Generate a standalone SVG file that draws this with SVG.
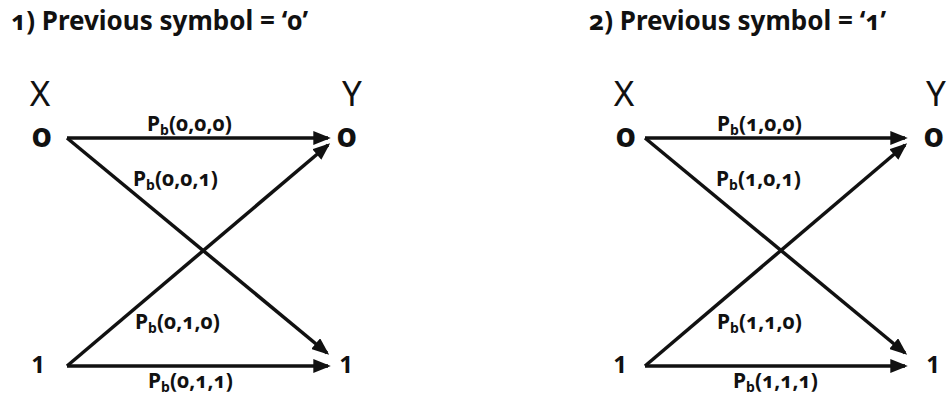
<svg xmlns="http://www.w3.org/2000/svg" width="948" height="396" viewBox="0 0 948 396">
<style>
text{font-family:"Noto Sans","Open Sans",sans-serif;fill:#111;font-variant-numeric:oldstyle-nums}
.title{font-size:26px;font-weight:bold}
.xy{font-size:35px;font-weight:normal}
.sym{font-size:34px;font-weight:bold}
.one{font-size:24px;font-weight:bold;font-variant-numeric:lining-nums}
.lab{font-size:21px;font-weight:bold}
.sub{font-size:14px}
.edge{stroke:#111;stroke-width:3.5;fill:none;marker-end:url(#ah)}
</style>
<defs>
<marker id="ah" markerWidth="5" markerHeight="4" refX="4.2" refY="2" orient="auto" markerUnits="strokeWidth">
<path d="M0,0 L5,2 L0,4 Z" fill="#111"/>
</marker>
</defs>
<rect width="948" height="396" fill="#fff"/>
<g id="panel1">
<text class="title" x="11" y="30">1) Previous symbol = ‘0’</text>
<g id="p1-x"><text class="xy" x="40" y="106" text-anchor="middle">X</text></g>
<g id="p1-y"><text class="xy" x="352" y="106" text-anchor="middle">Y</text></g>
<g id="p1-x0"><text class="sym" x="42" y="147" text-anchor="middle">0</text></g>
<g id="p1-x1"><text class="one" x="38" y="373" text-anchor="middle">1</text></g>
<g id="p1-y0"><text class="sym" x="347" y="147" text-anchor="middle">0</text></g>
<g id="p1-y1"><text class="one" x="346" y="373" text-anchor="middle">1</text></g>
<g id="p1-connectors">
<line class="edge" x1="67" y1="138" x2="328" y2="138"/>
<line class="edge" x1="67" y1="138" x2="327" y2="353"/>
<line class="edge" x1="67" y1="366" x2="328" y2="145"/>
<line class="edge" x1="67" y1="366" x2="328" y2="366"/>
<text class="lab" x="147" y="131">P<tspan class="sub" dy="4">b</tspan><tspan dy="-4">(0,0,0)</tspan></text>
<text class="lab" x="133" y="186">P<tspan class="sub" dy="4">b</tspan><tspan dy="-4">(0,0,1)</tspan></text>
<text class="lab" x="135" y="329">P<tspan class="sub" dy="4">b</tspan><tspan dy="-4">(0,1,0)</tspan></text>
<text class="lab" x="148" y="388">P<tspan class="sub" dy="4">b</tspan><tspan dy="-4">(0,1,1)</tspan></text>
</g>
</g>
<g id="panel2">
<text class="title" x="589" y="30">2) Previous symbol = ‘1’</text>
<g id="p2-x"><text class="xy" x="624" y="106" text-anchor="middle">X</text></g>
<g id="p2-y"><text class="xy" x="936" y="106" text-anchor="middle">Y</text></g>
<g id="p2-x0"><text class="sym" x="626" y="147" text-anchor="middle">0</text></g>
<g id="p2-x1"><text class="one" x="620" y="373" text-anchor="middle">1</text></g>
<g id="p2-y0"><text class="sym" x="934" y="147" text-anchor="middle">0</text></g>
<g id="p2-y1"><text class="one" x="933" y="373" text-anchor="middle">1</text></g>
<g id="p2-connectors">
<line class="edge" x1="645" y1="138" x2="905" y2="138"/>
<line class="edge" x1="645" y1="138" x2="905" y2="353"/>
<line class="edge" x1="645" y1="366" x2="905" y2="145"/>
<line class="edge" x1="645" y1="366" x2="905" y2="366"/>
<text class="lab" x="717" y="131">P<tspan class="sub" dy="4">b</tspan><tspan dy="-4">(1,0,0)</tspan></text>
<text class="lab" x="716" y="186">P<tspan class="sub" dy="4">b</tspan><tspan dy="-4">(1,0,1)</tspan></text>
<text class="lab" x="717" y="329">P<tspan class="sub" dy="4">b</tspan><tspan dy="-4">(1,1,0)</tspan></text>
<text class="lab" x="733" y="388">P<tspan class="sub" dy="4">b</tspan><tspan dy="-4">(1,1,1)</tspan></text>
</g>
</g>
</svg>
